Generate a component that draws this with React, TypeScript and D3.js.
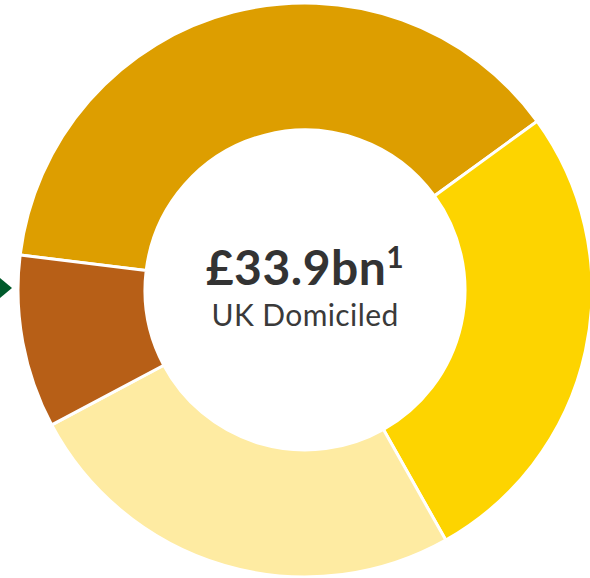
import React from 'react';
import { pie, arc, PieArcDatum } from 'd3';

const categories = ['Segment A', 'Segment B', 'Segment C', 'Segment D'];
const values = [12.9, 9.1, 8.6, 3.3];
const colors = ['#DD9E00', '#FDD400', '#FEEBA2', '#B75F17'];
const totalLabel = '£33.9bn';
const subLabel = 'UK Domiciled';

const W = 590;
const H = 578;
const cx = 305;
const cy = 290;
const outerR = 287;
const innerR = 160;

const deg = (d: number) => (d * Math.PI) / 180;

export default function App() {
  const slices = pie<number>()
    .sort(null)
    .startAngle(deg(-83))
    .endAngle(deg(277))(values);
  const slicePath = arc<PieArcDatum<number>>()
    .innerRadius(innerR)
    .outerRadius(outerR);

  return (
    <svg
      width={W}
      height={H}
      style={{ position: 'absolute', left: 0, top: 0, background: '#fff' }}
    >
      <g transform={`translate(${cx},${cy})`}>
        {slices.map((s, i) => (
          <path
            key={categories[i]}
            d={slicePath(s) ?? ''}
            fill={colors[i]}
            stroke="#fff"
            strokeWidth={3}
          />
        ))}
        <text
          y={-5}
          textAnchor="middle"
          fontFamily="Lato, 'Open Sans', sans-serif"
          fontWeight={700}
          fontSize={48}
          letterSpacing={0.5}
          fill="#333"
        >
          {totalLabel}
          <tspan fontSize={30} dy={-17}>1</tspan>
        </text>
        <text
          y={36}
          textAnchor="middle"
          fontFamily="Lato, 'Open Sans', sans-serif"
          fontSize={30}
          letterSpacing={0.4}
          fill="#3a3a3a"
        >
          {subLabel}
        </text>
      </g>
      <path
        d={`M0,${cy - 12} L12,${cy - 2} L0,${cy + 8} L-12,${cy - 2} Z`}
        fill="#005A2B"
      />
    </svg>
  );
}
